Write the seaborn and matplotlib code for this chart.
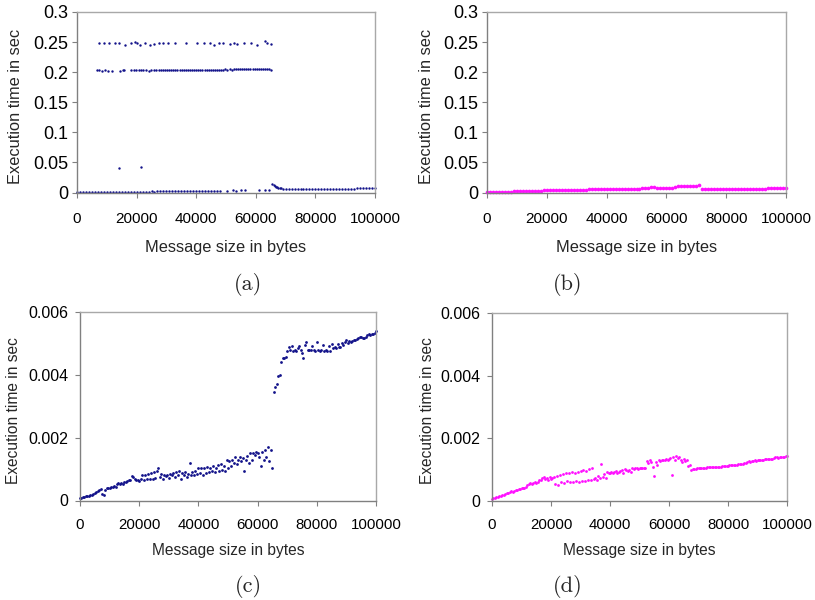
import numpy as np
import pandas as pd
import matplotlib
matplotlib.use("Agg")
import matplotlib.pyplot as plt
import seaborn as sns

# ---------------------------------------------------------------------------
# Measured execution times (milliseconds) against message size (bytes)
# ---------------------------------------------------------------------------

# (a) low band: steady small-message timings, the jump near 64 KB and the tail
a_low_sizes = [0, 1000, 2000, 3000, 4000, 5000, 6000, 7000, 8000, 9000,
               10000, 11000, 12000, 13000, 14000, 15000, 16000, 17000, 18000, 19000,
               20000, 21000, 22000, 23000, 24000, 25000, 26000, 27000, 28000, 29000,
               30000, 31000, 32000, 33000, 34000, 35000, 36000, 37000, 38000, 39000,
               40000, 41000, 42000, 43000, 44000, 45000, 46000, 47000, 48000,
               50500, 52500, 53500, 55000, 56500, 61000, 63000, 64500,
               65600, 66000, 66400, 66800, 67200, 67600, 68000, 68500, 69000,
               70000, 71000, 72000, 73000, 74000, 75000, 76000, 77000, 78000, 79000,
               80000, 81000, 82000, 83000, 84000, 85000, 86000, 87000, 88000, 89000,
               90000, 91000, 92000, 93000, 94000, 95000, 96000, 97000, 98000, 99000,
               100000]
a_low_ms = [0.2, 0.3, 0.3, 0.4, 0.4, 0.5, 0.6, 0.5, 0.7, 0.8,
            0.8, 0.9, 0.9, 1.0, 1.1, 1.0, 1.2, 1.3, 1.2, 1.4,
            1.3, 1.5, 1.4, 1.6, 1.5, 1.7, 1.6, 1.8, 1.7, 1.9,
            1.8, 2.0, 2.1, 1.9, 2.2, 2.1, 2.3, 2.2, 2.4, 2.3,
            2.5, 2.4, 2.6, 2.5, 2.7, 2.6, 2.8, 2.7, 2.9,
            3.0, 3.5, 3.2, 3.8, 3.4, 4.5, 4.8, 4.6,
            13.5, 12.2, 11.0, 9.8, 8.8, 8.0, 7.3, 6.8, 6.5,
            5.8, 5.8, 5.8, 5.9, 5.9, 5.9, 6.0, 6.0, 6.0, 6.1,
            6.1, 6.1, 6.2, 6.2, 6.2, 6.3, 6.3, 6.4, 6.4, 6.4,
            6.5, 6.5, 6.6, 6.6, 6.7, 6.7, 6.8, 6.8, 6.9, 7.0,
            7.1]

# (a) isolated slow calls around 40 ms
a_mid_sizes = [14000, 21500]
a_mid_ms = [41.5, 43.2]

# (a) band of calls stalled for roughly 200 ms
a_band200_sizes = [6700, 7500, 8400, 9300, 10300, 11700,
                   14500, 15300, 15900,
                   18200, 19000, 19900, 20700, 21500, 22300, 23100, 24000, 24800, 25700, 26500,
                   27400, 28100, 28800, 29500, 30200, 30900, 31600, 32300, 33000, 33700,
                   34400, 35100, 35800, 36500, 37200, 37900, 38600, 39300, 40000, 40700,
                   41400, 42100, 42800, 43500, 44200, 44900, 45600, 46300, 47000, 47700,
                   48400, 49100, 49800, 50500, 51200, 51900, 52600, 53300, 54000, 54700,
                   55400, 56100, 56800, 57500, 58200, 58900, 59600, 60300, 61000, 61700,
                   62400, 63100, 63800, 64500,
                   65200]
a_band200_ms = [203.2, 202.8, 202.5, 202.9, 202.6, 202.4,
                202.3, 203.6, 203.0,
                203.4, 203.1, 202.8, 203.5, 202.9, 203.2, 203.6, 202.7, 203.3, 203.0, 203.5,
                203.4, 202.9, 203.6, 203.1, 203.3, 202.8, 203.5, 203.6, 203.2, 203.8,
                203.4, 203.0, 203.7, 203.5, 203.3, 203.9, 203.6, 203.4, 203.8, 203.5,
                203.9, 203.6, 204.0, 203.7, 204.1, 203.8, 204.2, 203.9, 204.3, 204.0,
                204.4, 204.1, 204.5, 204.2, 204.6, 204.3, 204.8, 204.5, 205.0, 204.6,
                205.2, 204.8, 205.6, 205.3, 205.1, 205.5, 205.2, 205.6, 205.3, 205.1,
                205.4, 205.0, 204.8, 204.6,
                203.2]

# (a) band of calls stalled for roughly 250 ms
a_band250_sizes = [7500, 9160, 10600, 12850, 14080, 16200, 18200, 19330, 20100, 21230,
                   22900, 24360, 25700, 27370, 28830, 30500, 32960, 36650, 40220, 42680,
                   44690, 45810, 47710, 49160, 51400, 52740, 53630, 56200, 58320, 60560,
                   63130, 63910, 65030]
a_band250_ms = [248.5, 248.5, 248.8, 248.5, 248.3, 245.5, 248.0, 249.5, 248.5, 245.5,
                248.5, 245.0, 247.5, 248.0, 248.5, 248.5, 248.5, 248.3, 249.0, 248.8,
                248.5, 245.5, 248.5, 248.5, 246.0, 248.5, 246.0, 249.3, 248.5, 245.5,
                251.5, 248.8, 246.5]

# (b) timings sampled every 1000 bytes
b_sizes = list(range(0, 100001, 1000))
b_ms = [0.4, 0.5, 0.7, 0.9, 1.0, 1.2, 1.3, 1.5, 1.6, 1.8,
        2.0, 2.1, 2.3, 2.4, 2.6, 2.8, 2.9, 3.1, 3.3, 3.5,
        3.7, 3.8, 3.9, 4.0, 4.1, 4.2, 3.9, 4.0, 4.1, 4.2,
        4.3, 4.4, 4.5, 4.6, 5.0, 5.2, 5.4, 5.6, 5.8, 5.9,
        6.0, 6.1, 6.2, 5.2, 5.3, 5.4, 5.6, 5.8, 6.0, 6.2,
        6.4, 6.6, 6.8, 7.0, 7.2, 8.8, 9.2, 7.4, 7.6, 7.7,
        7.9, 8.0, 8.2, 9.8, 10.2, 10.5, 10.8, 11.0, 11.2, 11.4,
        11.6, 11.8, 5.5, 5.5, 5.6, 5.6, 5.7, 5.7, 5.8, 5.8,
        5.9, 5.9, 6.0, 6.0, 6.1, 6.1, 6.2, 6.2, 6.3, 6.3,
        6.4, 6.5, 6.5, 6.6, 6.7, 6.7, 6.8, 6.9, 7.0, 7.1,
        7.2]

# (c) and (d) timings sampled every 500 bytes
cd_sizes = list(range(0, 100001, 500))
c_ms = [0.08, 0.09, 0.10, 0.12, 0.13, 0.14, 0.15, 0.16, 0.17, 0.22,
        0.25, 0.27, 0.30, 0.33, 0.36, 0.20, 0.18, 0.34, 0.39, 0.40,
        0.41, 0.42, 0.43, 0.45, 0.44, 0.52, 0.55, 0.54, 0.57, 0.52,
        0.60, 0.58, 0.62, 0.66, 0.64, 0.78, 0.76, 0.68, 0.64, 0.66,
        0.62, 0.67, 0.80, 0.66, 0.82, 0.68, 0.85, 0.70, 0.88, 0.67,
        0.92, 0.73, 0.95, 1.02, 0.75, 0.85, 0.70, 0.82, 0.78, 0.80,
        0.72, 0.85, 0.80, 0.88, 0.76, 0.90, 0.82, 0.95, 0.70, 0.88,
        0.80, 0.92, 0.75, 0.85, 1.18, 0.80, 0.90, 0.82, 0.95, 0.85,
        1.05, 0.88, 1.02, 0.80, 1.05, 0.86, 1.08, 0.90, 1.05, 0.95,
        1.10, 0.92, 1.05, 1.12, 0.95, 1.15, 0.98, 1.10, 0.95, 1.30,
        1.05, 1.25, 1.10, 1.28, 1.20, 1.38, 1.15, 1.30, 1.40, 1.25,
        1.35, 0.95, 1.30, 1.42, 1.20, 1.50, 1.28, 1.52, 1.45, 1.55,
        1.50, 1.40, 1.10, 1.55, 1.30, 1.62, 1.40, 1.70, 1.25, 1.60,
        1.05, 3.45, 3.60, 3.70, 3.95, 4.00, 4.42, 4.55, 4.52, 4.58,
        4.75, 4.90, 4.78, 4.92, 4.76, 4.78, 4.76, 4.85, 4.92, 4.78,
        4.70, 4.55, 4.95, 5.05, 4.80, 4.78, 4.80, 4.92, 4.78, 4.76,
        5.05, 4.78, 4.76, 4.78, 4.95, 4.76, 4.78, 4.75, 4.92, 4.76,
        4.98, 4.85, 4.88, 4.86, 4.98, 4.88, 4.90, 5.00, 4.95, 5.05,
        5.10, 5.02, 5.08, 5.05, 5.08, 5.12, 5.10, 5.15, 5.18, 5.22,
        5.20, 5.18, 5.16, 5.20, 5.28, 5.30, 5.28, 5.30, 5.30, 5.32,
        5.40]
d_ms = [0.07, 0.08, 0.10, 0.12, 0.13, 0.15, 0.16, 0.18, 0.20, 0.22,
        0.25, 0.27, 0.29, 0.31, 0.30, 0.33, 0.34, 0.36, 0.38, 0.39,
        0.40, 0.42, 0.43, 0.45, 0.50, 0.55, 0.56, 0.55, 0.58, 0.60,
        0.57, 0.62, 0.66, 0.68, 0.72, 0.78, 0.70, 0.75, 0.68, 0.78,
        0.70, 0.75, 0.78, 0.55, 0.80, 0.52, 0.82, 0.60, 0.85, 0.58,
        0.88, 0.65, 0.90, 0.62, 0.92, 0.60, 0.90, 0.65, 0.92, 0.62,
        0.95, 0.63, 0.98, 0.65, 0.95, 0.68, 1.02, 0.66, 1.05, 0.70,
        0.75, 0.68, 0.80, 0.72, 1.18, 0.78, 0.85, 0.75, 0.92, 0.88,
        0.90, 0.92, 0.90, 0.92, 0.95, 0.90, 0.92, 0.95, 1.00, 0.90,
        1.02, 0.98, 0.95, 1.00, 0.92, 1.05, 1.02, 1.05, 1.05, 1.03,
        1.05, 1.05, 1.06, 1.05, 1.06, 1.28, 1.22, 1.30, 1.25, 1.10,
        0.80, 1.25, 1.15, 1.32, 1.28, 1.30, 1.32, 1.30, 1.34, 1.32,
        1.35, 1.38, 0.82, 1.40, 1.32, 1.45, 1.38, 1.42, 1.30, 1.25,
        1.35, 1.28, 1.30, 1.12, 1.15, 1.00, 1.02, 1.03, 1.03, 1.04,
        1.04, 1.05, 1.05, 1.05, 1.06, 1.06, 1.07, 1.07, 1.07, 1.08,
        1.08, 1.09, 1.09, 1.10, 1.10, 1.10, 1.11, 1.12, 1.12, 1.13,
        1.13, 1.14, 1.14, 1.15, 1.15, 1.16, 1.16, 1.17, 1.18, 1.18,
        1.19, 1.20, 1.22, 1.25, 1.28, 1.24, 1.27, 1.28, 1.30, 1.28,
        1.30, 1.30, 1.31, 1.32, 1.32, 1.33, 1.33, 1.34, 1.34, 1.35,
        1.35, 1.38, 1.40, 1.42, 1.38, 1.40, 1.42, 1.40, 1.42, 1.43,
        1.45]

x_ticks = [0, 20000, 40000, 60000, 80000, 100000]
top_y_ticks = [0, 0.05, 0.1, 0.15, 0.2, 0.25, 0.3]
bottom_y_ticks = [0, 0.002, 0.004, 0.006]
captions = ["(a)", "(b)", "(c)", "(d)"]
x_label = "Message size in bytes"
y_label = "Execution time in sec"

NAVY = "#12128a"
MAGENTA = "#ff10ff"


def frame(sizes, ms):
    return pd.DataFrame({"size": sizes, "time": np.asarray(ms) / 1000.0})


panel_a = pd.concat([frame(a_low_sizes, a_low_ms), frame(a_mid_sizes, a_mid_ms),
                     frame(a_band200_sizes, a_band200_ms),
                     frame(a_band250_sizes, a_band250_ms)], ignore_index=True)
panel_b = frame(b_sizes, b_ms)
panel_c = frame(cd_sizes, c_ms)
panel_d = frame(cd_sizes, d_ms)

sns.set_style("ticks")
plt.rcParams["font.family"] = ["Liberation Sans", "DejaVu Sans"]

fig = plt.figure(figsize=(8.15, 6.0), dpi=100)

W, H = 815.0, 600.0


def add_axes(x0, x1, ytop, ybot):
    return fig.add_axes([x0 / W, 1 - ybot / H, (x1 - x0) / W, (ybot - ytop) / H])


ax_a = add_axes(77, 375, 12, 192.5)
ax_b = add_axes(487, 786, 12, 192.5)
ax_c = add_axes(80, 376, 312, 500.5)
ax_d = add_axes(492, 787, 313, 501)

specs = [
    (ax_a, panel_a, NAVY, 3, top_y_ticks, 0.3, "top", -0.205, 0.478, -0.303),
    (ax_b, panel_b, MAGENTA, 7, top_y_ticks, 0.3, "top", -0.204, 0.478, -0.303),
    (ax_c, panel_c, NAVY, 4, bottom_y_ticks, 0.006, "bottom", -0.223, 0.479, -0.263),
    (ax_d, panel_d, MAGENTA, 4, bottom_y_ticks, 0.006, "bottom", -0.217, 0.479, -0.263),
]

for ax, df, color, msize, yticks, ymax, row, ylx, yly, xly in specs:
    sns.scatterplot(data=df, x="size", y="time", color=color, s=msize, marker="o",
                    linewidth=0, ax=ax, legend=False, clip_on=False)
    ax.set_xlim(0, 100000)
    ax.set_ylim(0, ymax)
    ax.set_xticks(x_ticks)
    ax.set_xticklabels([str(t) for t in x_ticks])
    ax.set_yticks(yticks)
    ax.set_yticklabels([f"{t:g}" for t in yticks])
    if row == "top":
        ax.tick_params(axis="x", labelsize=11, pad=11)
        ax.tick_params(axis="y", labelsize=13, pad=3)
        lab_fs = 11.8
    else:
        ax.tick_params(axis="x", labelsize=10.8, pad=9)
        ax.tick_params(axis="y", labelsize=11.5, pad=5)
        lab_fs = 11.2
    ax.tick_params(axis="both", direction="out", length=3.3, width=0.8,
                   color="#808080", labelcolor="#000000")
    for side in ("left", "bottom"):
        ax.spines[side].set_color("#808080")
        ax.spines[side].set_linewidth(1.0)
    for side in ("top", "right"):
        ax.spines[side].set_visible(True)
        ax.spines[side].set_color("#a8a8a8")
        ax.spines[side].set_linewidth(1.0)
    ax.set_xlabel(x_label, fontsize=lab_fs)
    ax.set_ylabel(y_label, fontsize=lab_fs)
    ax.xaxis.set_label_coords(0.5, xly)
    ax.xaxis.label.set_va("center")
    ax.yaxis.set_label_coords(ylx, yly)
    ax.yaxis.label.set_va("center")

# Sub-figure captions
caption_pos = [(248, 285), (568, 285), (248, 586), (568, 586)]
for text, (px, py) in zip(captions, caption_pos):
    fig.text(px / W, 1 - py / H, text, family="cmr10", fontsize=16,
             ha="center", va="center")

fig.savefig("out.png", dpi=100)
